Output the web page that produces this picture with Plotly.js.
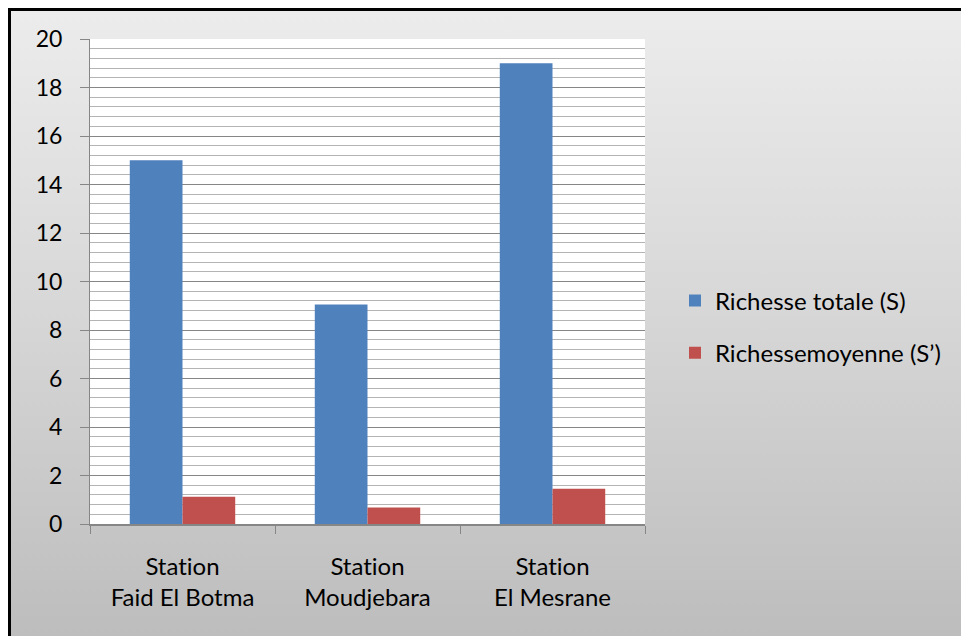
<!DOCTYPE html>
<html>
<head>
<meta charset="utf-8">
<script src="https://cdn.plot.ly/plotly-3.0.1.min.js"></script>
<style>
  html, body { margin: 0; padding: 0; width: 961px; height: 636px; overflow: hidden; background: #ffffff; }
  #frame {
    position: absolute; left: 8px; top: 8px; right: 0; bottom: 0;
    border-left: 3px solid #000; border-top: 3px solid #000;
    background: linear-gradient(to bottom, #ececec 0%, #d6d6d6 50%, #bdbdbd 100%);
  }
  #chart { position: absolute; left: 0; top: 0; width: 961px; height: 636px; }
  #chart text { font-variant-ligatures: none; font-feature-settings: "liga" 0, "clig" 0; }
</style>
</head>
<body>
<div id="frame"></div>
<div id="chart"></div>
<script>
// Stations sampled
const stations = ["Station<br>Faid El Botma", "Station<br>Moudjebara", "Station<br>El Mesrane"];

// Richesse totale (S) and richesse moyenne (S') per station
const richesseTotale = [15, 9.05, 19];
const richesseMoyenne = [1.12, 0.68, 1.45];

const seriesNames = ["Richesse totale (S)", "Richessemoyenne (S\u2019)"];
const seriesColors = ["#4f81bd", "#c0504d"];

const fontFamily = "Lato, 'Open Sans', sans-serif";

const traces = [
  {
    type: "bar", name: seriesNames[0], x: stations, y: richesseTotale,
    marker: { color: seriesColors[0], line: { width: 0 } },
    legendgroup: "s", hoverinfo: "x+y"
  },
  {
    type: "bar", name: seriesNames[1], x: stations, y: richesseMoyenne,
    marker: { color: seriesColors[1], line: { width: 0 } },
    legendgroup: "m", hoverinfo: "x+y"
  }
];

const layout = {
  width: 961, height: 636,
  margin: { l: 90, r: 316, t: 39, b: 112, pad: 0 },
  paper_bgcolor: "rgba(0,0,0,0)",
  plot_bgcolor: "#ffffff",
  barmode: "group",
  bargap: 0.43,
  bargroupgap: 0,
  font: { family: fontFamily, size: 23, color: "#000000" },
  showlegend: true,
  legend: {
    xref: "container", yref: "container",
    x: 675 / 961, xanchor: "left",
    y: 1 - 327 / 636, yanchor: "middle",
    bgcolor: "rgba(0,0,0,0)",
    font: { family: fontFamily, size: 24, color: "#000000" },
    traceorder: "grouped", tracegroupgap: 18
  },
  xaxis: {
    type: "category",
    tickson: "boundaries",
    ticks: "outside", ticklen: 8, tickcolor: "#868686", tickwidth: 1,
    showline: true, linecolor: "#868686", linewidth: 2,
    showgrid: false, zeroline: false,
    ticklabelstandoff: 20,
    tickfont: { family: fontFamily, size: 24, color: "#000000" }
  },
  yaxis: {
    range: [0, 20], dtick: 2, tick0: 0,
    ticks: "outside", ticklen: 9, tickcolor: "#868686", tickwidth: 1,
    showline: true, linecolor: "#868686", linewidth: 1,
    showgrid: true, gridcolor: "#868686", gridwidth: 1,
    zeroline: false,
    ticklabelstandoff: 13,
    tickfont: { family: fontFamily, size: 23, color: "#000000" },
    minor: { dtick: 0.4, showgrid: true, gridcolor: "#b4b4b4", gridwidth: 1, ticks: "" }
  }
};

Plotly.newPlot("chart", traces, layout, { displayModeBar: false, staticPlot: true });
</script>
</body>
</html>
